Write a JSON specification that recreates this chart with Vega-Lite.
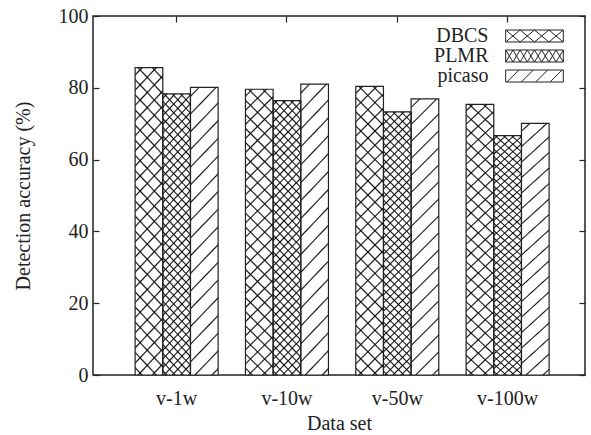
{
"$schema":"https://vega.github.io/schema/vega-lite/v6.json",
"width":492,"height":359,
"autosize":"none",
"padding":{"left":93,"top":16,"right":6,"bottom":60},
"background":"white",
"data":{"values":[
{"dataset":"v-1w","method":"DBCS","acc":85.6},
{"dataset":"v-1w","method":"PLMR","acc":78.3},
{"dataset":"v-1w","method":"picaso","acc":80.1},
{"dataset":"v-10w","method":"DBCS","acc":79.6},
{"dataset":"v-10w","method":"PLMR","acc":76.4},
{"dataset":"v-10w","method":"picaso","acc":81.0},
{"dataset":"v-50w","method":"DBCS","acc":80.4},
{"dataset":"v-50w","method":"PLMR","acc":73.3},
{"dataset":"v-50w","method":"picaso","acc":76.9},
{"dataset":"v-100w","method":"DBCS","acc":75.4},
{"dataset":"v-100w","method":"PLMR","acc":66.7},
{"dataset":"v-100w","method":"picaso","acc":70.1}
]},
"config":{
"view":{"stroke":"#222","strokeWidth":1.5},
"font":"Liberation Serif",
"axis":{"grid":false,"domain":false,"labelFont":"Liberation Serif","titleFont":"Liberation Serif","labelFontSize":20,"titleFontSize":20,"titleFontWeight":"normal","labelColor":"#222","titleColor":"#222","tickColor":"#222","tickWidth":1.2,"tickSize":-6}
},
"layer":[
{
"encoding":{
"x":{"field":"dataset","type":"nominal","sort":["v-1w","v-10w","v-50w","v-100w"],"scale":{"paddingInner":0.2477,"paddingOuter":0.3535,"align":0.54},"axis":{"title":"Data set","labelAngle":0,"labelPadding":19,"titlePadding":5,"tickSize":-6}},
"xOffset":{"field":"method","type":"nominal","sort":["DBCS","PLMR","picaso"],"scale":{"paddingInner":0,"paddingOuter":0}},
"y":{"field":"acc","type":"quantitative","scale":{"domain":[0,100],"nice":false},"axis":{"title":"Detection accuracy (%)","values":[0,20,40,60,80,100],"labelPadding":11,"titlePadding":25,"tickSize":-6}}
},
"layer":[
{"mark":{"type":"bar","fill":"white","stroke":null}},
{"transform":[{"filter":{"field":"method","equal":"DBCS"}}],
"mark":{"type":"bar","stroke":null,"fill":{"gradient":"linear","x1":0,"y1":0,"x2":0.1044,"y2":1.0861,"stops":[
{"offset":0.017,"color":"transparent"},{"offset":0.022,"color":"#111"},{"offset":0.027,"color":"transparent"},
{"offset":0.062,"color":"transparent"},{"offset":0.067,"color":"#111"},{"offset":0.072,"color":"transparent"},
{"offset":0.107,"color":"transparent"},{"offset":0.112,"color":"#111"},{"offset":0.117,"color":"transparent"},
{"offset":0.152,"color":"transparent"},{"offset":0.157,"color":"#111"},{"offset":0.162,"color":"transparent"},
{"offset":0.197,"color":"transparent"},{"offset":0.202,"color":"#111"},{"offset":0.207,"color":"transparent"},
{"offset":0.242,"color":"transparent"},{"offset":0.247,"color":"#111"},{"offset":0.252,"color":"transparent"},
{"offset":0.287,"color":"transparent"},{"offset":0.292,"color":"#111"},{"offset":0.297,"color":"transparent"},
{"offset":0.332,"color":"transparent"},{"offset":0.337,"color":"#111"},{"offset":0.342,"color":"transparent"},
{"offset":0.377,"color":"transparent"},{"offset":0.382,"color":"#111"},{"offset":0.387,"color":"transparent"},
{"offset":0.422,"color":"transparent"},{"offset":0.427,"color":"#111"},{"offset":0.432,"color":"transparent"},
{"offset":0.467,"color":"transparent"},{"offset":0.472,"color":"#111"},{"offset":0.477,"color":"transparent"},
{"offset":0.512,"color":"transparent"},{"offset":0.517,"color":"#111"},{"offset":0.522,"color":"transparent"},
{"offset":0.557,"color":"transparent"},{"offset":0.562,"color":"#111"},{"offset":0.567,"color":"transparent"},
{"offset":0.602,"color":"transparent"},{"offset":0.607,"color":"#111"},{"offset":0.612,"color":"transparent"},
{"offset":0.647,"color":"transparent"},{"offset":0.652,"color":"#111"},{"offset":0.657,"color":"transparent"},
{"offset":0.692,"color":"transparent"},{"offset":0.697,"color":"#111"},{"offset":0.702,"color":"transparent"},
{"offset":0.737,"color":"transparent"},{"offset":0.742,"color":"#111"},{"offset":0.747,"color":"transparent"},
{"offset":0.782,"color":"transparent"},{"offset":0.787,"color":"#111"},{"offset":0.792,"color":"transparent"},
{"offset":0.827,"color":"transparent"},{"offset":0.832,"color":"#111"},{"offset":0.837,"color":"transparent"},
{"offset":0.872,"color":"transparent"},{"offset":0.877,"color":"#111"},{"offset":0.882,"color":"transparent"},
{"offset":0.917,"color":"transparent"},{"offset":0.922,"color":"#111"},{"offset":0.927,"color":"transparent"},
{"offset":0.962,"color":"transparent"},{"offset":0.967,"color":"#111"},{"offset":0.972,"color":"transparent"}
]}}},
{"transform":[{"filter":{"field":"method","equal":"DBCS"}}],
"mark":{"type":"bar","stroke":null,"fill":{"gradient":"linear","x1":0,"y1":1,"x2":0.1044,"y2":-0.0861,"stops":[
{"offset":0.017,"color":"transparent"},{"offset":0.022,"color":"#111"},{"offset":0.027,"color":"transparent"},
{"offset":0.062,"color":"transparent"},{"offset":0.067,"color":"#111"},{"offset":0.072,"color":"transparent"},
{"offset":0.107,"color":"transparent"},{"offset":0.112,"color":"#111"},{"offset":0.117,"color":"transparent"},
{"offset":0.152,"color":"transparent"},{"offset":0.157,"color":"#111"},{"offset":0.162,"color":"transparent"},
{"offset":0.197,"color":"transparent"},{"offset":0.202,"color":"#111"},{"offset":0.207,"color":"transparent"},
{"offset":0.242,"color":"transparent"},{"offset":0.247,"color":"#111"},{"offset":0.252,"color":"transparent"},
{"offset":0.287,"color":"transparent"},{"offset":0.292,"color":"#111"},{"offset":0.297,"color":"transparent"},
{"offset":0.332,"color":"transparent"},{"offset":0.337,"color":"#111"},{"offset":0.342,"color":"transparent"},
{"offset":0.377,"color":"transparent"},{"offset":0.382,"color":"#111"},{"offset":0.387,"color":"transparent"},
{"offset":0.422,"color":"transparent"},{"offset":0.427,"color":"#111"},{"offset":0.432,"color":"transparent"},
{"offset":0.467,"color":"transparent"},{"offset":0.472,"color":"#111"},{"offset":0.477,"color":"transparent"},
{"offset":0.512,"color":"transparent"},{"offset":0.517,"color":"#111"},{"offset":0.522,"color":"transparent"},
{"offset":0.557,"color":"transparent"},{"offset":0.562,"color":"#111"},{"offset":0.567,"color":"transparent"},
{"offset":0.602,"color":"transparent"},{"offset":0.607,"color":"#111"},{"offset":0.612,"color":"transparent"},
{"offset":0.647,"color":"transparent"},{"offset":0.652,"color":"#111"},{"offset":0.657,"color":"transparent"},
{"offset":0.692,"color":"transparent"},{"offset":0.697,"color":"#111"},{"offset":0.702,"color":"transparent"},
{"offset":0.737,"color":"transparent"},{"offset":0.742,"color":"#111"},{"offset":0.747,"color":"transparent"},
{"offset":0.782,"color":"transparent"},{"offset":0.787,"color":"#111"},{"offset":0.792,"color":"transparent"},
{"offset":0.827,"color":"transparent"},{"offset":0.832,"color":"#111"},{"offset":0.837,"color":"transparent"},
{"offset":0.872,"color":"transparent"},{"offset":0.877,"color":"#111"},{"offset":0.882,"color":"transparent"},
{"offset":0.917,"color":"transparent"},{"offset":0.922,"color":"#111"},{"offset":0.927,"color":"transparent"},
{"offset":0.962,"color":"transparent"},{"offset":0.967,"color":"#111"},{"offset":0.972,"color":"transparent"}
]}}},
{"transform":[{"filter":{"field":"method","equal":"PLMR"}}],
"mark":{"type":"bar","stroke":null,"fill":{"gradient":"linear","x1":0,"y1":0,"x2":0.1141,"y2":1.0925,"stops":[
{"offset":0.009,"color":"transparent"},{"offset":0.014,"color":"#111"},{"offset":0.019,"color":"transparent"},
{"offset":0.037,"color":"transparent"},{"offset":0.042,"color":"#111"},{"offset":0.047,"color":"transparent"},
{"offset":0.065,"color":"transparent"},{"offset":0.07,"color":"#111"},{"offset":0.075,"color":"transparent"},
{"offset":0.093,"color":"transparent"},{"offset":0.098,"color":"#111"},{"offset":0.103,"color":"transparent"},
{"offset":0.121,"color":"transparent"},{"offset":0.126,"color":"#111"},{"offset":0.131,"color":"transparent"},
{"offset":0.149,"color":"transparent"},{"offset":0.154,"color":"#111"},{"offset":0.159,"color":"transparent"},
{"offset":0.177,"color":"transparent"},{"offset":0.182,"color":"#111"},{"offset":0.187,"color":"transparent"},
{"offset":0.205,"color":"transparent"},{"offset":0.21,"color":"#111"},{"offset":0.215,"color":"transparent"},
{"offset":0.233,"color":"transparent"},{"offset":0.238,"color":"#111"},{"offset":0.243,"color":"transparent"},
{"offset":0.261,"color":"transparent"},{"offset":0.266,"color":"#111"},{"offset":0.271,"color":"transparent"},
{"offset":0.289,"color":"transparent"},{"offset":0.294,"color":"#111"},{"offset":0.299,"color":"transparent"},
{"offset":0.317,"color":"transparent"},{"offset":0.322,"color":"#111"},{"offset":0.327,"color":"transparent"},
{"offset":0.345,"color":"transparent"},{"offset":0.35,"color":"#111"},{"offset":0.355,"color":"transparent"},
{"offset":0.373,"color":"transparent"},{"offset":0.378,"color":"#111"},{"offset":0.383,"color":"transparent"},
{"offset":0.401,"color":"transparent"},{"offset":0.406,"color":"#111"},{"offset":0.411,"color":"transparent"},
{"offset":0.429,"color":"transparent"},{"offset":0.434,"color":"#111"},{"offset":0.439,"color":"transparent"},
{"offset":0.457,"color":"transparent"},{"offset":0.462,"color":"#111"},{"offset":0.467,"color":"transparent"},
{"offset":0.485,"color":"transparent"},{"offset":0.49,"color":"#111"},{"offset":0.495,"color":"transparent"},
{"offset":0.513,"color":"transparent"},{"offset":0.518,"color":"#111"},{"offset":0.523,"color":"transparent"},
{"offset":0.541,"color":"transparent"},{"offset":0.546,"color":"#111"},{"offset":0.551,"color":"transparent"},
{"offset":0.569,"color":"transparent"},{"offset":0.574,"color":"#111"},{"offset":0.579,"color":"transparent"},
{"offset":0.597,"color":"transparent"},{"offset":0.602,"color":"#111"},{"offset":0.607,"color":"transparent"},
{"offset":0.625,"color":"transparent"},{"offset":0.63,"color":"#111"},{"offset":0.635,"color":"transparent"},
{"offset":0.653,"color":"transparent"},{"offset":0.658,"color":"#111"},{"offset":0.663,"color":"transparent"},
{"offset":0.681,"color":"transparent"},{"offset":0.686,"color":"#111"},{"offset":0.691,"color":"transparent"},
{"offset":0.709,"color":"transparent"},{"offset":0.714,"color":"#111"},{"offset":0.719,"color":"transparent"},
{"offset":0.737,"color":"transparent"},{"offset":0.742,"color":"#111"},{"offset":0.747,"color":"transparent"},
{"offset":0.765,"color":"transparent"},{"offset":0.77,"color":"#111"},{"offset":0.775,"color":"transparent"},
{"offset":0.793,"color":"transparent"},{"offset":0.798,"color":"#111"},{"offset":0.803,"color":"transparent"},
{"offset":0.821,"color":"transparent"},{"offset":0.826,"color":"#111"},{"offset":0.831,"color":"transparent"},
{"offset":0.849,"color":"transparent"},{"offset":0.854,"color":"#111"},{"offset":0.859,"color":"transparent"},
{"offset":0.877,"color":"transparent"},{"offset":0.882,"color":"#111"},{"offset":0.887,"color":"transparent"},
{"offset":0.905,"color":"transparent"},{"offset":0.91,"color":"#111"},{"offset":0.915,"color":"transparent"},
{"offset":0.933,"color":"transparent"},{"offset":0.938,"color":"#111"},{"offset":0.943,"color":"transparent"},
{"offset":0.961,"color":"transparent"},{"offset":0.966,"color":"#111"},{"offset":0.971,"color":"transparent"},
{"offset":0.989,"color":"transparent"},{"offset":0.994,"color":"#111"},{"offset":0.999,"color":"transparent"}
]}}},
{"transform":[{"filter":{"field":"method","equal":"PLMR"}}],
"mark":{"type":"bar","stroke":null,"fill":{"gradient":"linear","x1":0,"y1":1,"x2":0.1141,"y2":-0.0925,"stops":[
{"offset":0.009,"color":"transparent"},{"offset":0.014,"color":"#111"},{"offset":0.019,"color":"transparent"},
{"offset":0.037,"color":"transparent"},{"offset":0.042,"color":"#111"},{"offset":0.047,"color":"transparent"},
{"offset":0.065,"color":"transparent"},{"offset":0.07,"color":"#111"},{"offset":0.075,"color":"transparent"},
{"offset":0.093,"color":"transparent"},{"offset":0.098,"color":"#111"},{"offset":0.103,"color":"transparent"},
{"offset":0.121,"color":"transparent"},{"offset":0.126,"color":"#111"},{"offset":0.131,"color":"transparent"},
{"offset":0.149,"color":"transparent"},{"offset":0.154,"color":"#111"},{"offset":0.159,"color":"transparent"},
{"offset":0.177,"color":"transparent"},{"offset":0.182,"color":"#111"},{"offset":0.187,"color":"transparent"},
{"offset":0.205,"color":"transparent"},{"offset":0.21,"color":"#111"},{"offset":0.215,"color":"transparent"},
{"offset":0.233,"color":"transparent"},{"offset":0.238,"color":"#111"},{"offset":0.243,"color":"transparent"},
{"offset":0.261,"color":"transparent"},{"offset":0.266,"color":"#111"},{"offset":0.271,"color":"transparent"},
{"offset":0.289,"color":"transparent"},{"offset":0.294,"color":"#111"},{"offset":0.299,"color":"transparent"},
{"offset":0.317,"color":"transparent"},{"offset":0.322,"color":"#111"},{"offset":0.327,"color":"transparent"},
{"offset":0.345,"color":"transparent"},{"offset":0.35,"color":"#111"},{"offset":0.355,"color":"transparent"},
{"offset":0.373,"color":"transparent"},{"offset":0.378,"color":"#111"},{"offset":0.383,"color":"transparent"},
{"offset":0.401,"color":"transparent"},{"offset":0.406,"color":"#111"},{"offset":0.411,"color":"transparent"},
{"offset":0.429,"color":"transparent"},{"offset":0.434,"color":"#111"},{"offset":0.439,"color":"transparent"},
{"offset":0.457,"color":"transparent"},{"offset":0.462,"color":"#111"},{"offset":0.467,"color":"transparent"},
{"offset":0.485,"color":"transparent"},{"offset":0.49,"color":"#111"},{"offset":0.495,"color":"transparent"},
{"offset":0.513,"color":"transparent"},{"offset":0.518,"color":"#111"},{"offset":0.523,"color":"transparent"},
{"offset":0.541,"color":"transparent"},{"offset":0.546,"color":"#111"},{"offset":0.551,"color":"transparent"},
{"offset":0.569,"color":"transparent"},{"offset":0.574,"color":"#111"},{"offset":0.579,"color":"transparent"},
{"offset":0.597,"color":"transparent"},{"offset":0.602,"color":"#111"},{"offset":0.607,"color":"transparent"},
{"offset":0.625,"color":"transparent"},{"offset":0.63,"color":"#111"},{"offset":0.635,"color":"transparent"},
{"offset":0.653,"color":"transparent"},{"offset":0.658,"color":"#111"},{"offset":0.663,"color":"transparent"},
{"offset":0.681,"color":"transparent"},{"offset":0.686,"color":"#111"},{"offset":0.691,"color":"transparent"},
{"offset":0.709,"color":"transparent"},{"offset":0.714,"color":"#111"},{"offset":0.719,"color":"transparent"},
{"offset":0.737,"color":"transparent"},{"offset":0.742,"color":"#111"},{"offset":0.747,"color":"transparent"},
{"offset":0.765,"color":"transparent"},{"offset":0.77,"color":"#111"},{"offset":0.775,"color":"transparent"},
{"offset":0.793,"color":"transparent"},{"offset":0.798,"color":"#111"},{"offset":0.803,"color":"transparent"},
{"offset":0.821,"color":"transparent"},{"offset":0.826,"color":"#111"},{"offset":0.831,"color":"transparent"},
{"offset":0.849,"color":"transparent"},{"offset":0.854,"color":"#111"},{"offset":0.859,"color":"transparent"},
{"offset":0.877,"color":"transparent"},{"offset":0.882,"color":"#111"},{"offset":0.887,"color":"transparent"},
{"offset":0.905,"color":"transparent"},{"offset":0.91,"color":"#111"},{"offset":0.915,"color":"transparent"},
{"offset":0.933,"color":"transparent"},{"offset":0.938,"color":"#111"},{"offset":0.943,"color":"transparent"},
{"offset":0.961,"color":"transparent"},{"offset":0.966,"color":"#111"},{"offset":0.971,"color":"transparent"},
{"offset":0.989,"color":"transparent"},{"offset":0.994,"color":"#111"},{"offset":0.999,"color":"transparent"}
]}}},
{"transform":[{"filter":{"field":"method","equal":"picaso"}}],
"mark":{"type":"bar","stroke":null,"fill":{"gradient":"linear","x1":0,"y1":0,"x2":0.1088,"y2":1.089,"stops":[
{"offset":0.023,"color":"transparent"},{"offset":0.028,"color":"#111"},{"offset":0.033,"color":"transparent"},
{"offset":0.079,"color":"transparent"},{"offset":0.084,"color":"#111"},{"offset":0.089,"color":"transparent"},
{"offset":0.135,"color":"transparent"},{"offset":0.14,"color":"#111"},{"offset":0.145,"color":"transparent"},
{"offset":0.191,"color":"transparent"},{"offset":0.196,"color":"#111"},{"offset":0.201,"color":"transparent"},
{"offset":0.247,"color":"transparent"},{"offset":0.252,"color":"#111"},{"offset":0.257,"color":"transparent"},
{"offset":0.303,"color":"transparent"},{"offset":0.308,"color":"#111"},{"offset":0.313,"color":"transparent"},
{"offset":0.359,"color":"transparent"},{"offset":0.364,"color":"#111"},{"offset":0.369,"color":"transparent"},
{"offset":0.415,"color":"transparent"},{"offset":0.42,"color":"#111"},{"offset":0.425,"color":"transparent"},
{"offset":0.471,"color":"transparent"},{"offset":0.476,"color":"#111"},{"offset":0.481,"color":"transparent"},
{"offset":0.527,"color":"transparent"},{"offset":0.532,"color":"#111"},{"offset":0.537,"color":"transparent"},
{"offset":0.583,"color":"transparent"},{"offset":0.588,"color":"#111"},{"offset":0.593,"color":"transparent"},
{"offset":0.639,"color":"transparent"},{"offset":0.644,"color":"#111"},{"offset":0.649,"color":"transparent"},
{"offset":0.695,"color":"transparent"},{"offset":0.7,"color":"#111"},{"offset":0.705,"color":"transparent"},
{"offset":0.751,"color":"transparent"},{"offset":0.756,"color":"#111"},{"offset":0.761,"color":"transparent"},
{"offset":0.807,"color":"transparent"},{"offset":0.812,"color":"#111"},{"offset":0.817,"color":"transparent"},
{"offset":0.863,"color":"transparent"},{"offset":0.868,"color":"#111"},{"offset":0.873,"color":"transparent"},
{"offset":0.919,"color":"transparent"},{"offset":0.924,"color":"#111"},{"offset":0.929,"color":"transparent"},
{"offset":0.975,"color":"transparent"},{"offset":0.98,"color":"#111"},{"offset":0.985,"color":"transparent"}
]}}},
{"mark":{"type":"bar","fill":"transparent","stroke":"#222","strokeWidth":1.2}}
]
},
{
"mark":{"type":"point","opacity":0,"filled":false,"color":"#222"},
"encoding":{
"x":{"field":"dataset","type":"nominal","sort":["v-1w","v-10w","v-50w","v-100w"],"axis":{"orient":"top","labels":false,"title":null,"tickSize":-6}},
"xOffset":{"field":"method","type":"nominal","sort":["DBCS","PLMR","picaso"]},
"y":{"field":"acc","type":"quantitative","axis":{"orient":"right","labels":false,"title":null,"values":[0,20,40,60,80,100],"tickSize":-6}},
"shape":{"field":"method","type":"nominal","sort":["DBCS","PLMR","picaso"],
"scale":{"domain":["DBCS","PLMR","picaso"],"range":[
"M-18,0M-4.8,-1H4.8V1H-4.8ZM-4.8,-1L-2.4,1M-4.8,1L-2.4,-1M-2.4,-1L0,1M-2.4,1L0,-1M0,-1L2.4,1M0,1L2.4,-1M2.4,-1L4.8,1M2.4,1L4.8,-1",
"M-18,0M-4.8,-1H4.8V1H-4.8ZM-4.8,-1L-3.6,1M-4.8,1L-3.6,-1M-3.6,-1L-2.4,1M-3.6,1L-2.4,-1M-2.4,-1L-1.2,1M-2.4,1L-1.2,-1M-1.2,-1L0,1M-1.2,1L0,-1M0,-1L1.2,1M0,1L1.2,-1M1.2,-1L2.4,1M1.2,1L2.4,-1M2.4,-1L3.6,1M2.4,1L3.6,-1M3.6,-1L4.8,1M3.6,1L4.8,-1",
"M-18,0M-4.8,-1H4.8V1H-4.8ZM-4.6,1L-2.6,-1M-2.2,1L-0.2,-1M0.2,1L2.2,-1M2.6,1L4.6,-1"
]},
"legend":{"title":null,"orient":"none","legendX":431.5,"legendY":10,"padding":0,"labelAlign":"right","labelOffset":-56,"symbolSize":144,"symbolStrokeWidth":1,"symbolStrokeColor":"#222","symbolFillColor":"transparent","labelFont":"Liberation Serif","labelFontSize":20,"labelColor":"#222","rowPadding":-1.5}}
}
}
],
"resolve":{"axis":{"x":"independent","y":"independent"}}
}
